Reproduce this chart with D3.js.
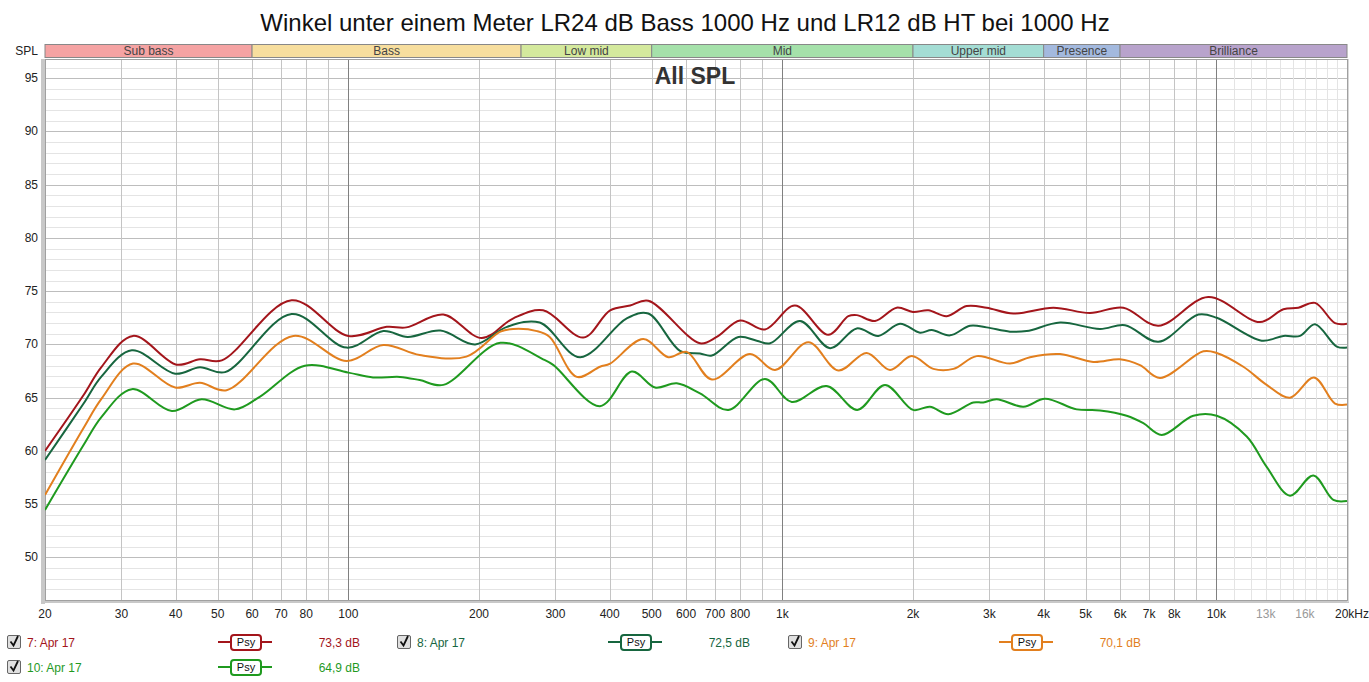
<!DOCTYPE html>
<meta charset="utf-8">
<body style="margin:0;background:#fff">
<style>
text { font-family: "Liberation Sans", Arial, sans-serif; }
.grid line { shape-rendering: crispEdges; }
.curve { fill: none; stroke-width: 2px; }
</style>
<script src="https://cdn.jsdelivr.net/npm/d3@7"></script>
<script>

var title = "Winkel unter einem Meter LR24 dB Bass 1000 Hz und LR12 dB HT bei 1000 Hz";

// frequency bands shown above the plot
var bandNames = ["Sub bass", "Bass", "Low mid", "Mid", "Upper mid", "Presence", "Brilliance"];
var bandEdges = [20, 60, 250, 500, 2000, 4000, 6000, 20000];
var bandColors = ["#f5a3a3", "#f7de9e", "#d4e99d", "#a5e1aa", "#a4ddd4", "#a3b9de", "#b8a3cc"];

var yTicks = [50, 55, 60, 65, 70, 75, 80, 85, 90, 95];
var xTicks = [20, 30, 40, 50, 60, 70, 80, 100, 200, 300, 400, 500, 600, 700, 800,
  1000, 2000, 3000, 4000, 5000, 6000, 7000, 8000, 10000, 13000, 16000, 20000];
var xTickLabels = ["20", "30", "40", "50", "60", "70", "80", "100", "200", "300", "400", "500", "600", "700", "800",
  "1k", "2k", "3k", "4k", "5k", "6k", "7k", "8k", "10k", "13k", "16k", "20kHz"];

// [Hz, dB]
var red7 = [[20,60.0],[24.5,65.2],[27,67.9],[31.9,70.8],[40.2,68.1],[45.5,68.6],[51.1,68.5],
  [74,74.15],[100,70.8],[122.6,71.65],[136,71.6],[165.5,72.8],[203,70.6],[240,72.45],[281,73.2],
  [348,70.65],[401,73.2],[446,73.65],[491,74.1],[646,70.1],[706,70.7],[799,72.25],[912,71.4],
  [1069,73.65],[1276,70.9],[1419,72.65],[1484,72.75],[1635,72.2],[1834,73.45],[2000,73.05],
  [2170,73.2],[2392,72.65],[2658,73.6],[2956,73.45],[3405,72.9],[4211,73.45],[5115,72.95],
  [6104,73.45],[7350,71.75],[9580,74.45],[12600,72.1],[14270,73.3],[15450,73.45],[16880,73.9],
  [18770,72.0],[20000,71.95]];

var dkgreen8 = [[20,59.15],[24.5,64.4],[27,67.0],[31.7,69.45],[39.9,67.25],[45.5,67.85],[52,67.4],
  [74,72.85],[99.1,69.7],[120.4,71.25],[137,70.7],[163,71.3],[196,70.0],[232,71.65],[276,72.05],
  [342,68.8],[438,72.45],[491,72.9],[581,69.4],[646,69.15],[688,68.95],[792,70.7],[873,70.35],
  [937,70.1],[1098,72.2],[1288,69.65],[1484,71.5],[1664,70.8],[1867,71.95],[2076,71.1],[2209,71.35],
  [2434,70.85],[2706,71.75],[2956,71.6],[3346,71.2],[3656,71.25],[4364,72.05],[5394,71.45],
  [6160,71.8],[7350,70.25],[9090,72.8],[10020,72.5],[12720,70.35],[14270,70.8],[15590,70.8],
  [16880,71.9],[18940,69.8],[20000,69.7]];

var orange9 = [[20,55.85],[24.5,62.1],[27,64.9],[31.9,68.2],[39.9,65.95],[45.5,66.4],[52.4,65.7],
  [74.7,70.8],[99.1,68.45],[120.4,69.95],[146,69.0],[187,68.85],[224,71.2],[240,71.45],[272,71.25],
  [291,70.7],[336,66.95],[380,67.9],[401,68.2],[478,70.5],[546,68.8],[602,69.3],[688,66.7],
  [842,69.1],[962,67.6],[1148,70.2],[1346,67.55],[1564,69.2],[1770,67.6],[1986,68.9],[2228,67.7],
  [2478,67.7],[2804,68.9],[3346,68.2],[3720,68.8],[4364,69.1],[5204,68.35],[5998,68.6],[6668,68.05],
  [7416,66.85],[9334,69.35],[10020,69.2],[11540,67.9],[13060,66.2],[14780,65.0],[16790,66.9],
  [18770,64.45],[20000,64.35]];

var green10 = [[20,54.45],[24.5,60.5],[27,63.2],[31.7,65.8],[39.2,63.75],[45.9,64.85],[54.8,63.9],
  [62.6,65.1],[79.4,68.0],[100,67.35],[114,66.9],[131.5,66.95],[146,66.65],[165.5,66.2],[224,70.15],
  [281,68.6],[297,68.05],[380,64.2],[450,67.45],[509,65.95],[571,66.35],[646,65.4],[751,63.85],
  [912,66.75],[1051,64.6],[1265,66.1],[1488,63.85],[1724,66.2],[2000,63.85],[2188,64.15],[2412,63.45],
  [2754,64.55],[2904,64.55],[3118,64.85],[3592,64.15],[4028,64.9],[4766,63.9],[5394,63.8],[6214,63.3],
  [6788,62.6],[7482,61.5],[8852,63.3],[10020,63.3],[11750,61.35],[13060,58.5],[14780,55.8],
  [16730,57.7],[18600,55.4],[20000,55.3]];

var seriesNames = ["7: Apr 17", "8: Apr 17", "9: Apr 17", "10: Apr 17"];
var seriesValues = [red7, dkgreen8, orange9, green10];
var seriesColors = ["#a3151b", "#17663f", "#e27f1e", "#1f9a1f"];
var seriesLevels = ["73,3 dB", "72,5 dB", "70,1 dB", "64,9 dB"];

var W = 1369, H = 682;
var pL = 45, pR = 1347, pT = 59, pB = 600;

var svg = d3.select("body").append("svg")
    .attr("width", W)
    .attr("height", H);

var x = d3.scaleLog().domain([20, 20000]).range([pL, pR]);
var y = d3.scaleLinear().domain([46, 96.8]).range([pB, pT]);

// title
svg.append("text")
    .attr("x", 685).attr("y", 31)
    .attr("text-anchor", "middle")
    .style("font-size", "24px")
    .style("fill", "#111")
    .text(title);

// band bar
svg.append("text")
    .attr("x", 38).attr("y", 55)
    .attr("text-anchor", "end")
    .style("font-size", "12px").style("fill", "#222")
    .text("SPL");

var bands = svg.append("g");
bandNames.forEach(function(name, i) {
  var x0 = x(bandEdges[i]), x1 = x(bandEdges[i + 1]);
  bands.append("rect")
      .attr("x", x0).attr("y", 44.5)
      .attr("width", x1 - x0).attr("height", 13)
      .style("fill", bandColors[i])
      .style("stroke", "#888").style("stroke-width", 1);
  bands.append("text")
      .attr("x", (x0 + x1) / 2).attr("y", 55)
      .attr("text-anchor", "middle")
      .style("font-size", "12px").style("fill", "#444")
      .text(name);
});

// frame shadow
svg.append("rect").attr("x", pL - 4).attr("y", pT).attr("width", 4).attr("height", pB - pT + 4).style("fill", "#c8c8c8");
svg.append("rect").attr("x", pL - 4).attr("y", pB).attr("width", pR - pL + 6).attr("height", 3).style("fill", "#c8c8c8");
svg.append("rect").attr("x", pR).attr("y", pT).attr("width", 2).attr("height", pB - pT + 2).style("fill", "#d8d8d8");

var grid = svg.append("g").attr("class", "grid");

// horizontal grid, every dB
d3.range(47, 97).forEach(function(v) {
  grid.append("line")
      .attr("x1", pL).attr("x2", pR)
      .attr("y1", Math.round(y(v)) + 0.5).attr("y2", Math.round(y(v)) + 0.5)
      .style("stroke", v % 5 == 0 ? "#bdbdbd" : "#e4e4e4");
});

// vertical grid
var vlines = [];
[10, 100, 1000].forEach(function(dec) {
  for (var k = 1; k <= 9; k++) vlines.push(dec * k);
});
vlines = vlines.filter(function(f) { return f > 20 && f < 20000; });
d3.range(11000, 20000, 1000).forEach(function(f) { vlines.push(f); });
vlines.push(10000);
vlines.forEach(function(f) {
  var decade = (f == 100 || f == 1000 || f == 10000);
  grid.append("line")
      .attr("x1", Math.round(x(f)) + 0.5).attr("x2", Math.round(x(f)) + 0.5)
      .attr("y1", pT).attr("y2", pB)
      .style("stroke", decade ? "#808080" : (f > 10000 ? "#e4e4e4" : "#c4c4c4"));
});

svg.append("rect")
    .attr("x", pL + 0.5).attr("y", pT + 0.5)
    .attr("width", pR - pL).attr("height", pB - pT)
    .style("fill", "none").style("stroke", "#a0a0a0");

svg.append("text")
    .attr("x", 695).attr("y", 84)
    .attr("text-anchor", "middle")
    .style("font-size", "23px").style("font-weight", "bold").style("fill", "#333")
    .text("All SPL");

// y labels
svg.selectAll(".ylab")
   .data(yTicks)
 .enter().append("text")
   .attr("x", 38)
   .attr("y", function(d) { return y(d) + 4; })
   .attr("text-anchor", "end")
   .style("font-size", "12px").style("fill", "#222")
   .text(function(d) { return d; });

// x labels
svg.selectAll(".xlab")
   .data(xTicks)
 .enter().append("text")
   .attr("x", function(d, i) { return i == xTicks.length - 1 ? x(d) + 5 : x(d); })
   .attr("y", 618)
   .attr("text-anchor", "middle")
   .style("font-size", "12px")
   .style("fill", function(d) { return (d == 13000 || d == 16000) ? "#999" : "#222"; })
   .text(function(d, i) { return xTickLabels[i]; });

// curves
var line = d3.line()
    .x(function(d) { return x(d[0]); })
    .y(function(d) { return y(d[1]); })
    .curve(d3.curveCatmullRom.alpha(0.5));

svg.append("clipPath").attr("id", "clip")
  .append("rect").attr("x", pL).attr("y", pT).attr("width", pR - pL).attr("height", pB - pT);

svg.append("g").attr("clip-path", "url(#clip)")
  .selectAll(".curve")
   .data(seriesValues)
 .enter().append("path")
   .attr("class", "curve")
   .attr("d", line)
   .style("stroke", function(d, i) { return seriesColors[i]; });

// legend
var legendPos = [[0, 642], [390, 642], [781, 642], [0, 667]];
seriesNames.forEach(function(name, i) {
  var g = svg.append("g").attr("transform", "translate(" + legendPos[i] + ")");
  g.append("rect").attr("x", 7.5).attr("y", -6.5).attr("width", 13).attr("height", 13)
      .attr("rx", 1.5)
      .style("fill", "#e0e0e0").style("stroke", "#666");
  g.append("path").attr("d", "M10.5,-0.5 L13.5,3.5 L18,-6")
      .style("fill", "none").style("stroke", "#111").style("stroke-width", 1.8);
  g.append("text").attr("x", 27).attr("y", 4.5)
      .style("font-size", "12px").style("fill", seriesColors[i])
      .text(name);
  g.append("line").attr("x1", 218).attr("x2", 272).attr("y1", 0).attr("y2", 0)
      .style("stroke", seriesColors[i]).style("stroke-width", 2);
  g.append("rect").attr("x", 231).attr("y", -7).attr("width", 30).attr("height", 15)
      .attr("rx", 3)
      .style("fill", "#fff").style("stroke", seriesColors[i]).style("stroke-width", 2);
  g.append("text").attr("x", 246).attr("y", 4)
      .attr("text-anchor", "middle")
      .style("font-size", "11px").style("fill", "#111")
      .text("Psy");
  g.append("text").attr("x", 360).attr("y", 4.5)
      .attr("text-anchor", "end")
      .style("font-size", "12px").style("fill", seriesColors[i])
      .text(seriesLevels[i]);
});

</script>
